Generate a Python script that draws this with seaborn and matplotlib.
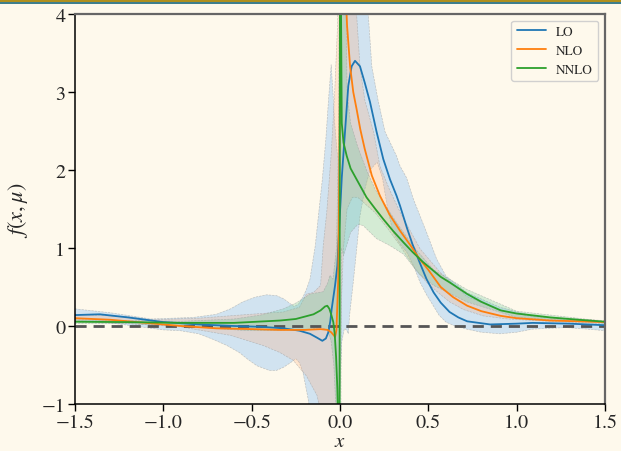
import numpy as np
import pandas as pd
import matplotlib
matplotlib.use("Agg")
import matplotlib.pyplot as plt
import seaborn as sns
from matplotlib.patches import Rectangle

# ---------------- data ----------------
orders = ["LO", "NLO", "NNLO"]

lo_x = [-1.5, -1.36, -1.2, -1.0, -0.8, -0.6, -0.45, -0.32, -0.23, -0.17, -0.13, -0.10, -0.08,
        -0.066, -0.055, -0.047, -0.028, -0.015, -0.004, 0.004, 0.01, 0.028, 0.047, 0.066, 0.085,
        0.113, 0.14, 0.17, 0.207, 0.245, 0.283, 0.32, 0.34, 0.38, 0.41, 0.45, 0.49, 0.53, 0.57,
        0.62, 0.67, 0.72, 0.85, 1.0, 1.09, 1.3, 1.5]
lo_y = [0.14, 0.15, 0.11, 0.05, 0.02, 0.0, -0.01, -0.03, -0.06, -0.10, -0.15, -0.19, -0.16,
        -0.08, 0.06, 0.22, 0.52, 0.77, 1.29, 1.63, 1.9, 2.48, 3.08, 3.33, 3.40,
        3.33, 3.12, 2.87, 2.49, 2.14, 1.88, 1.67, 1.54, 1.25, 1.05, 0.82, 0.60, 0.43, 0.30,
        0.18, 0.11, 0.06, 0.02, 0.03, 0.04, 0.03, 0.01]

nlo_x = [-1.5, -1.3, -1.0, -0.9, -0.7, -0.5, -0.34, -0.2, -0.11, -0.07, -0.05, -0.035, -0.028,
         -0.02, -0.01, -0.004, 0.002, 0.01, 0.02, 0.03, 0.04, 0.057, 0.075, 0.094, 0.115, 0.14,
         0.18, 0.226, 0.28, 0.34, 0.40, 0.45, 0.50, 0.57, 0.64, 0.72, 0.80, 0.91, 1.0, 1.19, 1.35, 1.5]
nlo_y = [0.10, 0.08, 0.02, 0.0, -0.03, -0.04, -0.05, -0.05, -0.04, -0.05, -0.08, -0.12, -0.14,
         -0.05, 0.6, 2.0, 4.0, 5.5, 5.2, 4.4, 3.85, 3.33, 3.0, 2.78, 2.52, 2.27,
         1.93, 1.67, 1.43, 1.22, 1.03, 0.86, 0.72, 0.50, 0.37, 0.26, 0.19, 0.13, 0.10, 0.07, 0.06, 0.05]

nnlo_x = [-1.5, -1.2, -0.9, -0.6, -0.34, -0.25, -0.15, -0.11, -0.085, -0.072, -0.06, -0.05,
          -0.038, -0.03, -0.022, -0.015, -0.01, -0.004, 0.001, 0.006, 0.01, 0.02, 0.038, 0.06,
          0.094, 0.15, 0.20, 0.245, 0.30, 0.36, 0.41, 0.47, 0.57, 0.62, 0.72, 0.80, 0.91, 1.0,
          1.19, 1.35, 1.5]
nnlo_y = [0.055, 0.05, 0.04, 0.04, 0.07, 0.09, 0.15, 0.20, 0.25, 0.26, 0.22, 0.15,
          0.05, -0.10, -0.40, -0.80, -1.3, -5.0, 8.0, 4.0, 2.6, 2.35, 2.18, 2.02,
          1.88, 1.65, 1.50, 1.37, 1.22, 1.07, 0.95, 0.82, 0.63, 0.56, 0.41, 0.31, 0.20, 0.16,
          0.11, 0.08, 0.055]

# uncertainty bands: upper and lower edges
lo_up_x = [-1.5, -1.3, -1.07, -0.83, -0.70, -0.62, -0.55, -0.48, -0.415, -0.36, -0.32, -0.26,
           -0.235, -0.21, -0.19, -0.17, -0.14, -0.12, -0.10, -0.08, -0.065, -0.05, -0.04, -0.03,
           -0.015, -0.004, 0.002, 0.15, 0.16, 0.18, 0.215, 0.255, 0.32, 0.34, 0.377, 0.415, 0.49,
           0.547, 0.60, 0.717, 0.905, 1.09, 1.28, 1.5]
lo_up_y = [0.22, 0.17, 0.09, 0.11, 0.15, 0.22, 0.31, 0.37, 0.40, 0.39, 0.35, 0.25,
           0.28, 0.37, 0.47, 0.60, 1.03, 1.46, 1.88, 2.40, 2.90, 3.35, 3.0, 2.6,
           2.2, 2.1, 4.5, 4.5, 4.0, 3.33, 2.90, 2.49, 2.18, 2.05, 1.90, 1.63, 1.20,
           0.86, 0.64, 0.43, 0.24, 0.13, 0.08, 0.055]
lo_lo_x = [-1.5, -1.3, -1.0, -0.905, -0.8, -0.72, -0.64, -0.57, -0.52, -0.47, -0.40, -0.36,
           -0.32, -0.28, -0.25, -0.23, -0.21, -0.18, -0.15, -0.05, -0.012, 0.0, 0.01, 0.025,
           0.04, 0.047, 0.055, 0.075, 0.095, 0.113, 0.14, 0.17, 0.21, 0.24, 0.27, 0.30, 0.34,
           0.377, 0.415, 0.453, 0.49, 0.528, 0.56, 0.60, 0.65, 0.717, 0.80, 0.905, 1.0, 1.09,
           1.28, 1.4, 1.5]
lo_lo_y = [0.07, 0.04, -0.05, -0.06, -0.10, -0.17, -0.25, -0.34, -0.43, -0.51, -0.57, -0.57,
           -0.53, -0.47, -0.42, -0.47, -0.59, -0.94, -1.5, -2.5, -2.0, -0.8, -0.2, -0.03,
           -0.06, -0.10, 0.15, 0.56, 1.0, 1.41, 1.75, 2.0, 2.1, 1.9, 1.5, 1.2, 1.05,
           0.95, 0.78, 0.56, 0.40, 0.26, 0.14, 0.05, 0.0, -0.04, -0.08, -0.10, -0.08, -0.04,
           -0.02, -0.04, -0.06]

nlo_up_x = [-1.5, -1.2, -1.07, -0.8, -0.51, -0.32, -0.23, -0.19, -0.15, -0.11, -0.095, -0.075,
            -0.05, -0.03, -0.015, -0.005, 0.09, 0.094, 0.113, 0.14, 0.19, 0.226, 0.28, 0.34,
            0.453, 0.566, 0.717, 0.905, 1.09, 1.5]
nlo_up_y = [0.15, 0.12, 0.08, 0.10, 0.15, 0.18, 0.24, 0.41, 0.43, 0.52, 1.03, 1.46,
            2.2, 3.0, 3.8, 4.6, 4.6, 4.0, 3.33, 2.9, 2.49, 2.05, 1.75, 1.46,
            0.99, 0.69, 0.38, 0.20, 0.12, 0.07]
nlo_lo_x = [-1.5, -1.2, -0.905, -0.62, -0.435, -0.34, -0.265, -0.19, -0.13, -0.11, -0.05,
            -0.005, 0.0, 0.008, 0.02, 0.04, 0.07, 0.10, 0.15, 0.20, 0.27, 0.34, 0.42, 0.49,
            0.56, 0.62, 0.70, 0.81, 0.95, 1.09, 1.3, 1.5]
nlo_lo_y = [0.05, 0.03, -0.01, -0.12, -0.25, -0.34, -0.44, -0.64, -0.89, -1.1, -1.8,
            -1.8, -1.0, 0.3, 1.0, 1.5, 1.65, 1.65, 1.55, 1.45, 1.25, 1.03, 0.75, 0.56,
            0.42, 0.31, 0.21, 0.13, 0.09, 0.07, 0.05, 0.03]

nnlo_up_x = [-1.5, -1.2, -0.9, -0.6, -0.45, -0.32, -0.245, -0.17, -0.095, -0.07, -0.057,
             -0.04, -0.02, -0.008, -0.003, 0.03, 0.04, 0.06, 0.10, 0.15, 0.20, 0.27, 0.34,
             0.43, 0.53, 0.717, 1.0, 1.5]
nnlo_up_y = [0.08, 0.07, 0.06, 0.09, 0.14, 0.22, 0.30, 0.41, 0.44, 0.55, 0.65,
             0.6, 1.0, 2.5, 5.0, 5.0, 3.0, 2.6, 2.3, 2.0, 1.75, 1.5, 1.26,
             0.98, 0.72, 0.47, 0.19, 0.06]
nnlo_lo_x = [-1.5, -1.2, -0.9, -0.53, -0.34, -0.19, -0.11, -0.07, -0.05, -0.035, -0.02,
             -0.005, 0.003, 0.008, 0.02, 0.06, 0.10, 0.13, 0.207, 0.283, 0.36, 0.45, 0.53,
             0.717, 1.0, 1.5]
nnlo_lo_y = [0.03, 0.03, 0.0, -0.06, -0.06, -0.05, -0.02, -0.05, -0.2, -0.5, -1.2,
             -3.0, -3.0, 1.0, 0.9, 1.2, 1.3, 1.29, 1.12, 1.03, 0.92, 0.66, 0.52,
             0.31, 0.11, 0.04]

colors = ["#1f77b4", "#ff7f0e", "#2ca02c"]
band_colors = ["#4ea5fc", "#ffab77", "#59c58f"]
bg = "#fef9ec"

# ---------------- figure ----------------
sns.set_style("ticks")
plt.rcParams["font.family"] = ["STIXGeneral", "Liberation Serif", "DejaVu Serif"]
plt.rcParams["mathtext.fontset"] = "stix"

fig = plt.figure(figsize=(6.21, 4.52), dpi=100)
fig.patch.set_facecolor(bg)
ax = fig.add_axes([75 / 621, 47 / 452, 530 / 621, 390 / 452])
ax.set_facecolor(bg)

bands = [
    (lo_up_x, lo_up_y, lo_lo_x, lo_lo_y),
    (nlo_up_x, nlo_up_y, nlo_lo_x, nlo_lo_y),
    (nnlo_up_x, nnlo_up_y, nnlo_lo_x, nnlo_lo_y),
]
for (ux, uy, lx, ly), c in zip(bands, band_colors):
    px = np.concatenate([ux, lx[::-1]])
    py = np.concatenate([uy, ly[::-1]])
    ax.fill(px, py, facecolor=matplotlib.colors.to_rgba(c, 0.25),
            edgecolor=(0.6, 0.6, 0.6, 0.55), linestyle="--", linewidth=0.45)

df = pd.concat([
    pd.DataFrame({"x": lo_x, "y": lo_y, "order": "LO"}),
    pd.DataFrame({"x": nlo_x, "y": nlo_y, "order": "NLO"}),
    pd.DataFrame({"x": nnlo_x, "y": nnlo_y, "order": "NNLO"}),
])
sns.lineplot(data=df, x="x", y="y", hue="order", hue_order=orders, palette=colors,
             sort=False, estimator=None, linewidth=1.3, ax=ax)

ax.axhline(0, color="#555555", linestyle=(0, (4, 2.5)), linewidth=2, zorder=1.5)

ax.set_xlim(-1.5, 1.5)
ax.set_ylim(-1, 4)
ax.set_xticks([-1.5, -1.0, -0.5, 0.0, 0.5, 1.0, 1.5])
ax.set_yticks([-1, 0, 1, 2, 3, 4])
ax.tick_params(labelsize=14.5, length=5, width=1, color="black", direction="out", pad=2)
ax.set_xlabel("$x$", fontsize=15, labelpad=0)
ax.set_ylabel(r"$f(x,\mu)$", fontsize=16, labelpad=8)

for s in ["left", "bottom"]:
    ax.spines[s].set_color("black")
    ax.spines[s].set_linewidth(1.1)
for s in ["top", "right"]:
    ax.spines[s].set_visible(True)
    ax.spines[s].set_color("#666666")
    ax.spines[s].set_linewidth(1.6)

leg = ax.legend(loc="upper right", fontsize=9.5, frameon=True, fancybox=True,
                borderaxespad=0.5, handlelength=2.2)
leg.get_frame().set_facecolor(bg)
leg.get_frame().set_edgecolor("#cccccc")
leg.get_frame().set_alpha(0.9)
leg.set_title(None)

# top decorative border
fig.add_artist(Rectangle((0, 1 - 3 / 452), 1, 3 / 452, transform=fig.transFigure,
                         facecolor="#b0901e", edgecolor="none"))
fig.add_artist(Rectangle((0, 1 - 4.5 / 452), 1, 1.5 / 452, transform=fig.transFigure,
                         facecolor="#3f7f8c", edgecolor="none"))

fig.savefig("out.png", dpi=100, facecolor=bg)
